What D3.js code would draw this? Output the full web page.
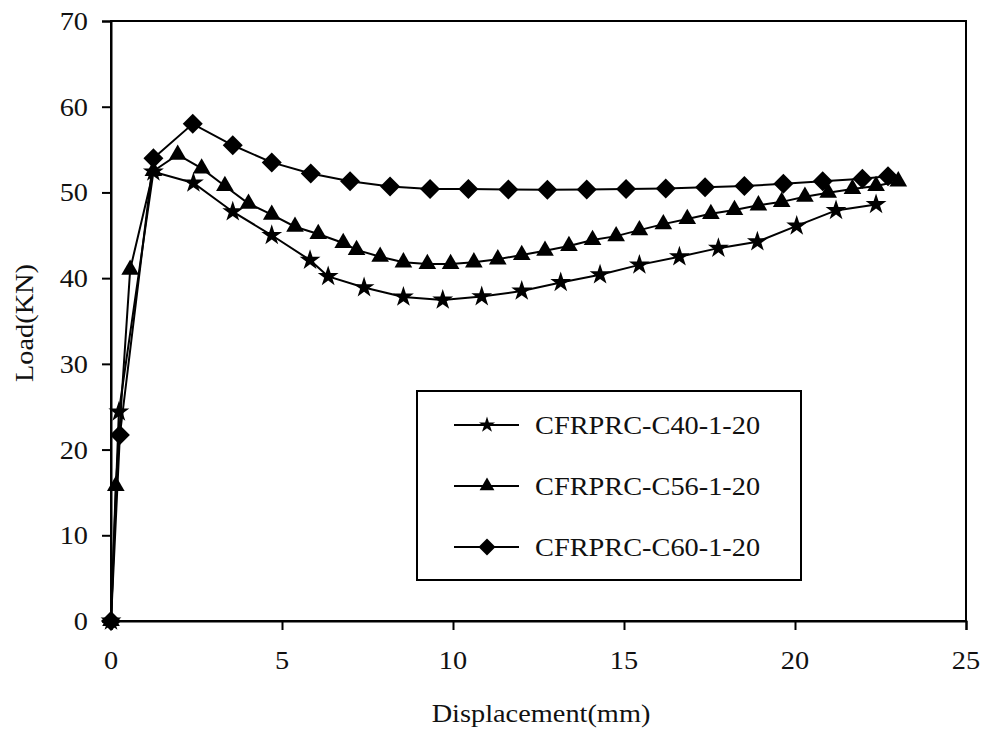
<!DOCTYPE html>
<html>
<head>
<meta charset="utf-8">
<script src="https://cdn.jsdelivr.net/npm/d3@7"></script>
<style>
  html, body { margin: 0; padding: 0; background: #fff; }
  svg { display: block; }
  text { font-family: "Liberation Serif", "Times New Roman", serif; fill: #111; }
</style>
</head>
<body>
<svg id="chart" width="984" height="729"></svg>
<script>
// ---- data ----
const seriesNames = ["CFRPRC-C40-1-20", "CFRPRC-C56-1-20", "CFRPRC-C60-1-20"];
const c40x = [0, 0.23, 1.24, 2.41, 3.56, 4.70, 5.82, 6.35, 7.40, 8.55, 9.70, 10.84, 12.01, 13.15, 14.30, 15.45, 16.62, 17.76, 18.90, 20.05, 21.20, 22.37];
const c40y = [0, 24.4, 52.4, 51.1, 47.75, 45.0, 42.1, 40.2, 38.9, 37.8, 37.45, 37.85, 38.5, 39.5, 40.4, 41.55, 42.5, 43.5, 44.25, 46.1, 47.9, 48.6];
const c56x = [0, 0.14, 0.56, 1.24, 1.95, 2.65, 3.33, 4.02, 4.70, 5.38, 6.06, 6.79, 7.18, 7.87, 8.55, 9.25, 9.93, 10.61, 11.31, 12.01, 12.69, 13.39, 14.08, 14.77, 15.45, 16.15, 16.85, 17.54, 18.23, 18.93, 19.61, 20.29, 20.97, 21.68, 22.37, 23.02];
const c56y = [0, 15.75, 41.0, 52.5, 54.4, 52.8, 50.75, 48.7, 47.4, 46.0, 45.15, 44.1, 43.3, 42.5, 41.85, 41.65, 41.65, 41.85, 42.2, 42.7, 43.2, 43.75, 44.45, 44.9, 45.6, 46.3, 46.9, 47.5, 47.95, 48.5, 48.9, 49.5, 49.97, 50.4, 50.75, 51.3];
const c60x = [0, 0.26, 1.24, 2.39, 3.56, 4.70, 5.84, 6.99, 8.16, 9.33, 10.45, 11.62, 12.76, 13.91, 15.06, 16.22, 17.37, 18.52, 19.66, 20.81, 21.97, 22.72];
const c60y = [0, 21.7, 54.0, 58.0, 55.5, 53.5, 52.2, 51.3, 50.7, 50.4, 50.4, 50.35, 50.3, 50.35, 50.4, 50.45, 50.6, 50.75, 51.0, 51.3, 51.6, 51.9];
const xTicks = [0, 5, 10, 15, 20, 25];
const yTicks = [0, 10, 20, 30, 40, 50, 60, 70];
const xTitle = "Displacement(mm)";
const yTitle = "Load(KN)";

// ---- layout ----
const svg = d3.select("#chart");
const m = { left: 111, right: 966, top: 21, bottom: 621 };
const x = d3.scaleLinear().domain([0, 25]).range([m.left, m.right]);
const y = d3.scaleLinear().domain([0, 70]).range([m.bottom, m.top]);
const SX = 1.09; // horizontal text stretch
const FS = 26;

function stext(g, tx, ty, str, anchor, size, rotate) {
  const t = g.append("g").attr("transform",
    `translate(${tx},${ty})` + (rotate ? ` rotate(${rotate})` : "") + ` scale(${SX},1)`);
  t.append("text").attr("text-anchor", anchor).attr("font-size", size).text(str);
}

// frame
svg.append("rect").attr("x", m.left).attr("y", m.top)
  .attr("width", m.right - m.left).attr("height", m.bottom - m.top)
  .attr("fill", "none").attr("stroke", "#000").attr("stroke-width", 2);

// axes
const xAxis = d3.axisBottom(x).tickValues(xTicks).tickSize(9).tickFormat("");
const yAxis = d3.axisLeft(y).tickValues(yTicks).tickSize(9).tickFormat("");
const gx = svg.append("g").attr("transform", `translate(0,${m.bottom})`).call(xAxis);
const gy = svg.append("g").attr("transform", `translate(${m.left},0)`).call(yAxis);
[gx, gy].forEach(g => {
  g.select(".domain").attr("stroke", "#000").attr("stroke-width", 2);
  g.selectAll(".tick line").attr("stroke", "#000").attr("stroke-width", 2);
});

xTicks.forEach(v => stext(svg, x(v), 669, String(v), "middle", FS));
yTicks.forEach(v => stext(svg, 88, y(v) + 9, String(v), "end", FS));

stext(svg, 541, 722, xTitle, "middle", FS);
stext(svg, 33, 323, yTitle, "middle", FS, -90);

// markers
const markers = {
  star: (g, size) => g.append("path").attr("d", d3.symbol(d3.symbolStar, size)()),
  tri: (g, size) => g.append("path").attr("d", d3.symbol(d3.symbolTriangle, size)()),
  dia: (g, size) => g.append("path").attr("d", "M0,-" + size + "L" + size + ",0L0," + size + "L-" + size + ",0Z")
};

const series = [
  { name: seriesNames[0], xs: c40x, ys: c40y, mk: "star", size: 135, lsize: 80 },
  { name: seriesNames[1], xs: c56x, ys: c56y, mk: "tri", size: 135, lsize: 95 },
  { name: seriesNames[2], xs: c60x, ys: c60y, mk: "dia", size: 10, lsize: 8.5 }
];

const line = d3.line().x(d => x(d[0])).y(d => y(d[1]));

series.forEach(s => {
  const pts = s.xs.map((v, i) => [v, s.ys[i]]);
  svg.append("path").datum(pts).attr("d", line)
    .attr("fill", "none").attr("stroke", "#000").attr("stroke-width", 2);
  pts.forEach(p => {
    const g = svg.append("g").attr("transform", `translate(${x(p[0])},${y(p[1])})`)
      .attr("fill", "#000");
    markers[s.mk](g, s.size);
  });
});

// legend
const lg = svg.append("g");
lg.append("rect").attr("x", 417).attr("y", 391).attr("width", 384).attr("height", 189)
  .attr("fill", "#fff").attr("stroke", "#000").attr("stroke-width", 2);
const rowsY = [425, 486, 547];
series.forEach((s, i) => {
  const ry = rowsY[i];
  lg.append("line").attr("x1", 454).attr("x2", 519).attr("y1", ry).attr("y2", ry)
    .attr("stroke", "#000").attr("stroke-width", 2);
  const g = lg.append("g").attr("transform", `translate(487,${ry})`).attr("fill", "#000");
  markers[s.mk](g, s.lsize);
  stext(lg, 535, ry + 9, s.name, "start", FS);
});
</script>
</body>
</html>
